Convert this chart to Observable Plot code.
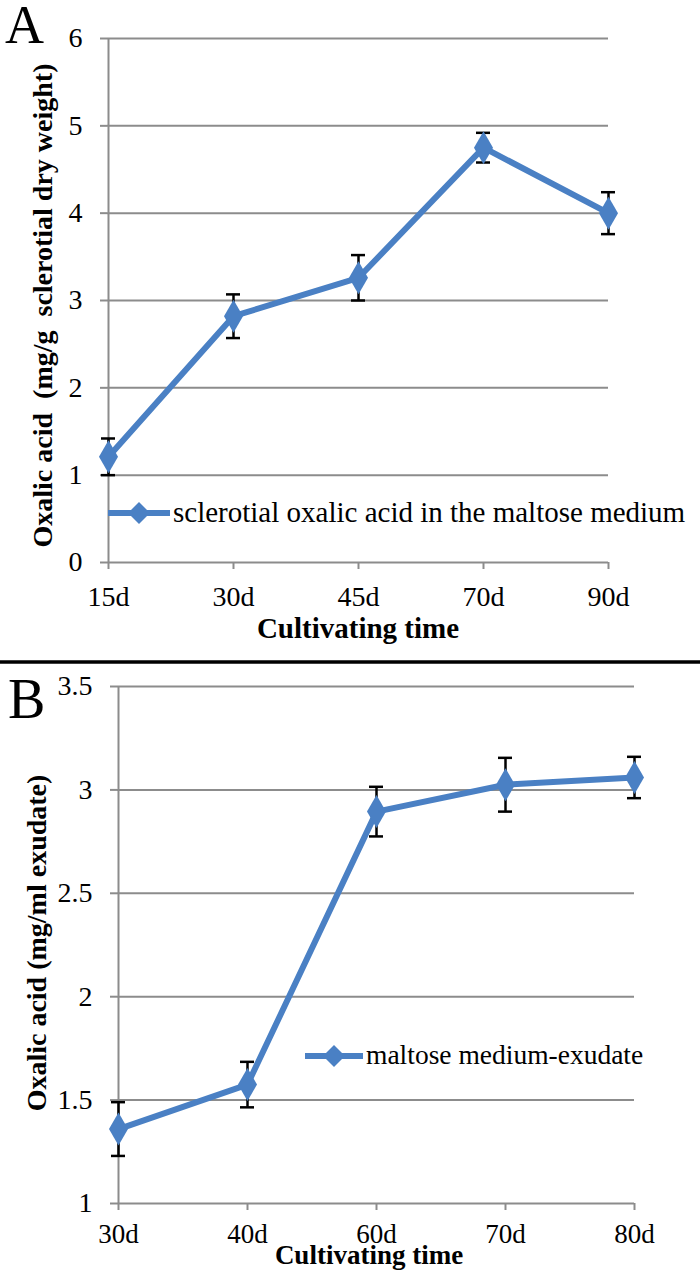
<!DOCTYPE html>
<html><head><meta charset="utf-8">
<script src="https://cdn.jsdelivr.net/npm/d3@7"></script>
<script src="https://cdn.jsdelivr.net/npm/@observablehq/plot@0.6"></script>
<style>
body{margin:0;background:#fff;}
#wrap{position:relative;width:700px;height:1277px;font-family:"Liberation Serif","Times New Roman",serif;overflow:hidden;}
.panel{position:absolute;left:0;}
#overlay{position:absolute;left:0;top:0;pointer-events:none;}
</style></head><body><div id="wrap"></div>
<script>
// ---- Data ----
const daysA = ["15d", "30d", "45d", "70d", "90d"];
const valuesA = [1.21, 2.82, 3.26, 4.75, 4.00];
const errorsA = [0.21, 0.25, 0.26, 0.17, 0.24];
const ticksA = [0, 1, 2, 3, 4, 5, 6];
const legendA = "sclerotial oxalic acid in the maltose medium";
const yTitleA = "Oxalic acid\u00a0 (mg/g\u00a0 sclerotial dry weight)";

const daysB = ["30d", "40d", "60d", "70d", "80d"];
const valuesB = [1.36, 1.575, 2.895, 3.025, 3.06];
const errorsB = [0.13, 0.11, 0.12, 0.13, 0.10];
const ticksB = [1, 1.5, 2, 2.5, 3, 3.5];
const legendB = "maltose medium-exudate";
const yTitleB = "Oxalic acid (mg/ml exudate)";

const xTitle = "Cultivating time";

// ---- Styles ----
const BLUE = "#4a80c4";
const GRID = "#8c8c8c";
const FONT = "'Liberation Serif', 'Times New Roman', serif";

function panel(cfg) {
  const rows = cfg.days.map((d, i) => ({day: d, v: cfg.values[i], e: cfg.errors[i]}));
  return Plot.plot({
    width: 700,
    height: cfg.height,
    marginLeft: cfg.ml, marginRight: cfg.mr, marginTop: cfg.mt, marginBottom: cfg.mb,
    style: {fontFamily: FONT, fontSize: "28px", color: "black", background: "white"},
    x: {type: "point", domain: cfg.days, padding: 0},
    y: {domain: [cfg.ticks[0], cfg.ticks[cfg.ticks.length - 1]]},
    marks: [
      Plot.gridY(cfg.ticks, {stroke: GRID, strokeOpacity: 1, strokeWidth: 2}),
      Plot.ruleX([cfg.days[0]], {stroke: GRID, strokeWidth: 2}),
      Plot.axisY(cfg.ticks, {tickSize: 7, tickPadding: 18, stroke: GRID, strokeWidth: 2, strokeOpacity: 1,
        fill: "black", fontSize: 28, tickFormat: d => String(d), label: null}),
      Plot.axisX({tickSize: 7, tickPadding: cfg.xtp, stroke: GRID, strokeWidth: 2, strokeOpacity: 1,
        fill: "black", fontSize: cfg.xfs, label: null}),
      Plot.ruleX(rows, {x: "day", y1: d => d.v - d.e, y2: d => d.v + d.e, stroke: "black", strokeWidth: 2.5}),
      Plot.ruleY(rows, {x1: "day", x2: "day", y: d => d.v + d.e, insetLeft: -7, insetRight: -7, stroke: "black", strokeWidth: 2.5}),
      Plot.ruleY(rows, {x1: "day", x2: "day", y: d => d.v - d.e, insetLeft: -7, insetRight: -7, stroke: "black", strokeWidth: 2.5}),
      Plot.line(rows, {x: "day", y: "v", stroke: BLUE, strokeWidth: 6, strokeLinejoin: "round", strokeLinecap: "round"}),
      Plot.dot(rows, {x: "day", y: "v", symbol: "diamond", r: 10, fill: BLUE, stroke: null}),
      Plot.text([xTitle], {frameAnchor: "bottom", textAnchor: "middle", dy: cfg.xtDy, dx: cfg.xtDx, fontWeight: "bold", fontSize: cfg.xtFs, fill: "black"}),
      Plot.text([cfg.yTitle], {frameAnchor: "left", textAnchor: "middle", dx: cfg.ytDx, dy: cfg.ytDy, rotate: -90, fontWeight: "bold", fontSize: 28, fill: "black"})
    ]
  });
}

const wrap = document.getElementById("wrap");

const pA = panel({days: daysA, values: valuesA, errors: errorsA, ticks: ticksA, yTitle: yTitleA,
  height: 663, ml: 107, mr: 92, mt: 38, mb: 101, xtp: 17, xfs: 28, xtDy: 75, xtDx: 0, xtFs: 29, ytDx: -64, ytDy: 5});
pA.classList.add("panel"); pA.style.top = "0px";
wrap.appendChild(pA);

const pB = panel({days: daysB, values: valuesB, errors: errorsB, ticks: ticksB, yTitle: yTitleB,
  height: 614, ml: 117, mr: 66, mt: 23, mb: 74, xtp: 13, xfs: 27, xtDy: 60, xtDx: -7, xtFs: 27, ytDx: -80, ytDy: -2});
pB.classList.add("panel"); pB.style.top = "663px";
wrap.appendChild(pB);

// ---- Overlay: panel letters, separator, legends ----
const svg = d3.select(wrap).append("svg").attr("id", "overlay").attr("width", 700).attr("height", 1277)
  .style("font-family", FONT);
svg.append("line").attr("x1", 0).attr("x2", 700).attr("y1", 662).attr("y2", 662)
  .attr("stroke", "black").attr("stroke-width", 3.5);
svg.append("text").attr("x", 5).attr("y", 43).attr("font-size", 54).text("A");
svg.append("text").attr("x", 8).attr("y", 718).attr("font-size", 56).text("B");

function legend(x0, x1, cy, label, tx, baseline, fs) {
  const g = svg.append("g");
  g.append("line").attr("x1", x0).attr("x2", x1).attr("y1", cy).attr("y2", cy)
    .attr("stroke", BLUE).attr("stroke-width", 6);
  const cx = (x0 + x1) / 2, h = 11;
  g.append("path").attr("d", `M${cx},${cy - h}L${cx + h},${cy}L${cx},${cy + h}L${cx - h},${cy}Z`).attr("fill", BLUE);
  g.append("text").attr("x", tx).attr("y", baseline).attr("font-size", fs).text(label);
}
legend(108, 170, 513, legendA, 173, 522, 29);
legend(305, 363, 1056, legendB, 366, 1064, 27.5);
</script>
</body></html>
